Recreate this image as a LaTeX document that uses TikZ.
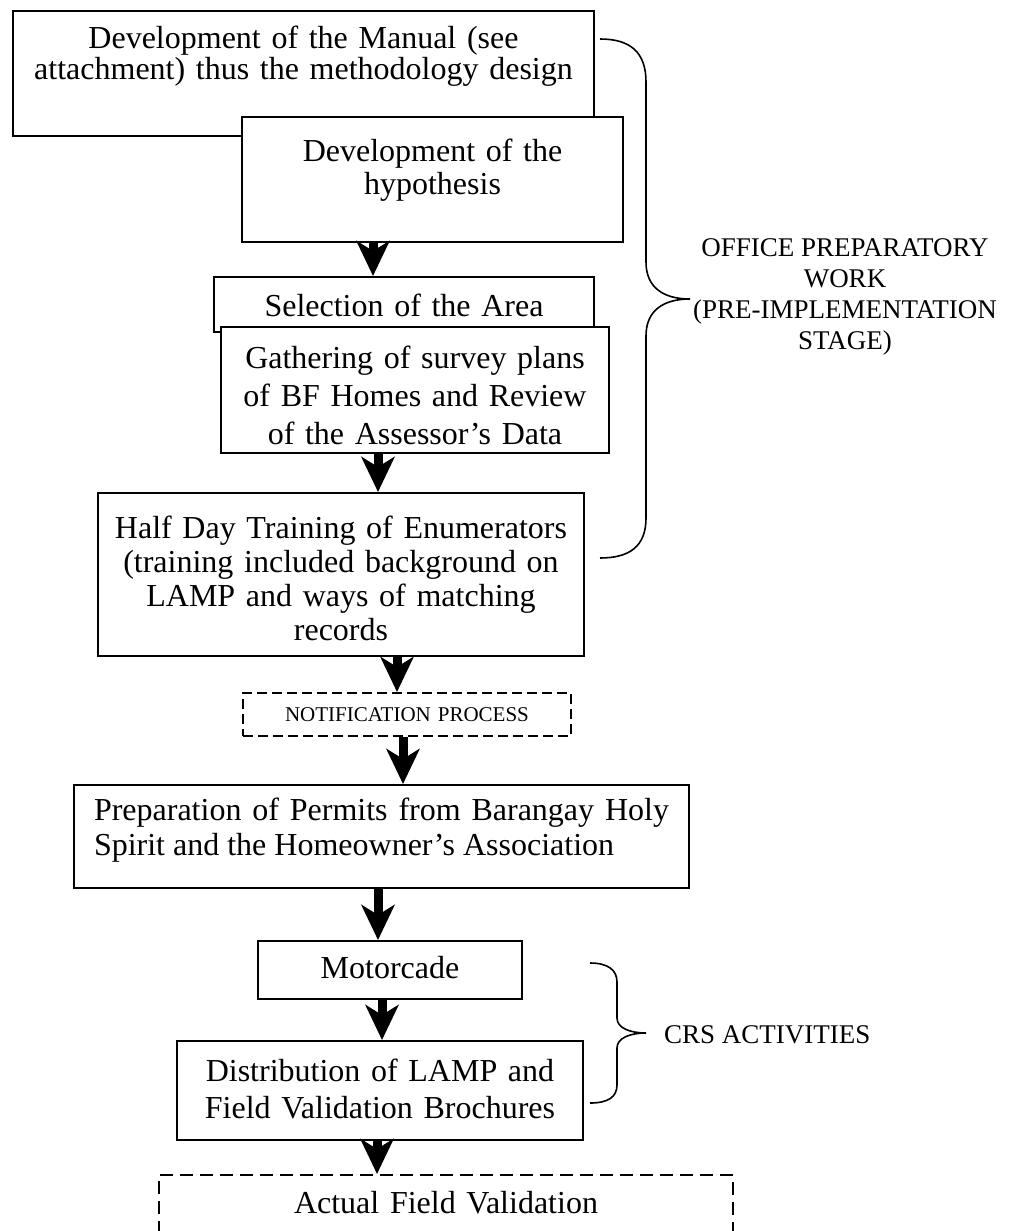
\documentclass[tikz,border=0pt]{standalone}
\usepackage{fontspec}
\setmainfont{Liberation Serif}
\usetikzlibrary{arrows.meta, positioning}

\begin{document}
\begin{tikzpicture}[x=0.5pt, y=-0.5pt,
  box/.style={draw, line width=1pt, fill=white, inner sep=0pt, align=center, anchor=north west, font=\fontsize{16pt}{17.5pt}\selectfont},
  lead/.style={font=\fontsize{16pt}{#1}\selectfont},
  dbox/.style={box, dash pattern=on 5pt off 2.5pt},
  flow/.style={-{Stealth[length=17.5pt, width=16.5pt, inset=5pt]}, line width=4.5pt},
  brace/.style={line width=0.8pt},
  side/.style={font=\fontsize{13.5pt}{15.5pt}\selectfont, align=center}]
  \useasboundingbox (0,0) rectangle (1012,1231);

  % office work
  \node[box, lead=14.5pt, text width=290.5pt, text height=18.5pt, text depth=44pt] (manual) at (12,10) {Development of the Manual (see\\ attachment) thus the methodology design};
  \node[box, lead=16.5pt, text width=190.5pt, text height=22pt, text depth=40.5pt] (hypo) at (241,116) {Development of the\\ hypothesis};
  \node[box, text width=190pt, text height=19.5pt, text depth=8pt] (area) at (213,276) {Selection of the Area};
  \node[box, lead=19pt, text width=194pt, text height=20.5pt, text depth=42.5pt] (survey) at (220,326) {Gathering of survey plans\\ of BF Homes and Review\\ of the Assessor's Data};
  \node[box, lead=17pt, text width=243pt, text height=22.5pt, text depth=59pt] (training) at (97,492) {Half Day Training of Enumerators\\ (training included background on\\ LAMP and ways of matching\\ records};

  % notification and CRS
  \node[dbox, text width=164pt, text height=14pt, text depth=7.5pt, font=\fontsize{10.5pt}{12pt}\selectfont] (notify) at (242,692) {NOTIFICATION PROCESS};
  \node[box, align=justify, inner xsep=10pt, text width=287.5pt, text height=17.5pt, text depth=34pt] (permits) at (73,784) {Preparation of Permits from Barangay Holy Spirit and the Homeowner's Association};
  \node[box, text width=132pt, text height=18.5pt, text depth=10.5pt] (motorcade) at (257,940) {Motorcade};
  \node[box, lead=18.5pt, text width=203pt, text height=20pt, text depth=29.5pt] (brochures) at (176,1040) {Distribution of LAMP and\\ Field Validation Brochures};
  \node[dbox, dash pattern=on 6.5pt off 3.5pt, text width=287pt, text height=19pt, text depth=14pt] (fieldval) at (158,1174) {Actual Field Validation};

  \draw[flow] (hypo.south -| 373,0) -- (area.north -| 373,0);
  \draw[flow] (survey.south -| 378,0) -- (training.north -| 378,0);
  \draw[flow] (training.south -| 397,0) -- (notify.north -| 397,0);
  \draw[flow] (notify.south -| 403,0) -- (permits.north -| 403,0);
  \draw[flow] (permits.south -| 378,0) -- (motorcade.north -| 378,0);
  \draw[flow] (motorcade.south -| 382,0) -- (brochures.north -| 382,0);
  \draw[flow] (brochures.south -| 377,0) -- (fieldval.north -| 377,0);

  % braces
  \draw[brace] (600,39) .. controls (630,39) and (646,52) .. (646,82) -- (646,262)
    .. controls (646,288) and (664,299) .. (690,299)
    .. controls (664,299) and (646,310) .. (646,336) -- (646,518)
    .. controls (646,546) and (630,558) .. (600,558);
  \node[side] (office) at (845,297) {OFFICE PREPARATORY\\ WORK\\ (PRE-IMPLEMENTATION\\ STAGE)};

  \draw[brace] (590,963) .. controls (608,963) and (617,970) .. (617,982) -- (617,1018)
    .. controls (617,1028) and (630,1033) .. (646,1033)
    .. controls (630,1033) and (617,1038) .. (617,1048) -- (617,1085)
    .. controls (617,1097) and (608,1103) .. (590,1103);
  \node[side, anchor=west] (crs) at (657,1035) {CRS ACTIVITIES};
\end{tikzpicture}
\end{document}
